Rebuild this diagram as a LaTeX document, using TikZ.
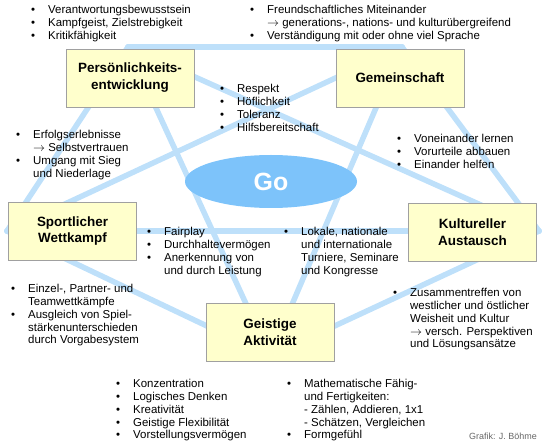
\documentclass[tikz,border=0pt]{standalone}
\usepackage{fontspec}
\setmainfont{Liberation Sans}
\usetikzlibrary{shapes.geometric}

\definecolor{barblue}{RGB}{190,224,250}
\definecolor{goblue}{RGB}{125,195,250}
\definecolor{boxfill}{RGB}{255,255,204}
\definecolor{boxline}{RGB}{160,160,160}

\newcommand\pkt{\strut\makebox[17bp][l]{•}}
\newcommand\ein{\hspace*{17bp}}
\newcommand\pfeil{\ensuremath{\rightarrow}}

\tikzset{
    bluebar/.style={line width=5.5bp,barblue,line cap=round},
    topic/.style={draw=boxline,fill=boxfill,minimum width=128bp,minimum height=58bp,
        align=center,inner sep=2bp,font=\fontsize{13.5}{17}\selectfont\bfseries},
    notes/.style={anchor=north west,inner sep=0pt,align=left,
        font=\fontsize{11.5}{13}\selectfont}
}

\begin{document}
\begin{tikzpicture}[x=1bp,y=-1bp]
        \useasboundingbox (0,0) rectangle (544,448);

        % corners of the pentagon
        \coordinate (tl) at (128,47);
        \coordinate (tr) at (402,47);
        \coordinate (r) at (539,231);
        \coordinate (b) at (270,356);
        \coordinate (l) at (7,231);

        \foreach \a/\b in {tl/tr,tr/r,r/b,b/l,l/tl,tl/r,tl/b,tr/l,tr/b,l/r}{
                \draw[bluebar] (\a) -- (\b);
            }

        \node[ellipse,fill=goblue,minimum width=172bp,minimum height=53bp,
            text=white,font=\fontsize{25}{30}\selectfont\bfseries] (go) at (271,181.5) {Go};

        \node[topic] (pers) at (130,78) {Persönlichkeits-\\entwicklung};
        \node[topic] (gem) at (400,78) {Gemeinschaft};
        \node[topic] (sport) at (72.5,231) {Sportlicher\\Wettkampf};
        \node[topic] (kult) at (472.5,232) {Kultureller\\Austausch};
        \node[topic] (geist) at (270,332) {Geistige\\Aktivität};

        \node[notes] (n1) at (31,3.9) {\pkt Verantwortungsbewusstsein\\
            \pkt Kampfgeist, Zielstrebigkeit\\ \pkt Kritikfähigkeit};
        \node[notes] (n2) at (250,3.9) {\pkt Freundschaftliches Miteinander\\
            \ein \pfeil{} generations-, nations- und kulturübergreifend\\
            \pkt Verständigung mit oder ohne viel Sprache};
        \node[notes] (n3) at (220,82.9) {\pkt Respekt\\ \pkt Höflichkeit\\
            \pkt Toleranz\\ \pkt Hilfsbereitschaft};
        \node[notes] (n4) at (16,128.9) {\pkt Erfolgserlebnisse\\ \ein \pfeil{} Selbstvertrauen\\
            \pkt Umgang mit Sieg\\ \ein und Niederlage};
        \node[notes] (n5) at (397,132.9) {\pkt Voneinander lernen\\
            \pkt Vorurteile abbauen\\ \pkt Einander helfen};
        \node[notes] (n6) at (147,225.9) {\pkt Fairplay\\ \pkt Durchhaltevermögen\\
            \pkt Anerkennung von\\ \ein und durch Leistung};
        \node[notes] (n7) at (284,225.9) {\pkt Lokale, nationale\\ \ein und internationale\\
            \ein Turniere, Seminare\\ \ein und Kongresse};
        \node[notes] (n8) at (11,282.9) {\pkt Einzel-, Partner- und\\ \ein Teamwettkämpfe\\
            \pkt Ausgleich von Spiel-\\ \ein stärkenunterschieden\\ \ein durch Vorgabesystem};
        \node[notes] (n9) at (393,286.9) {\pkt Zusammentreffen von\\
            \ein westlicher und östlicher\\ \ein Weisheit und Kultur\\
            \ein \pfeil{} versch. Perspektiven\\ \ein und Lösungsansätze};
        \node[notes] (n10) at (116,377.9) {\pkt Konzentration\\ \pkt Logisches Denken\\
            \pkt Kreativität\\ \pkt Geistige Flexibilität\\ \pkt Vorstellungsvermögen};
        \node[notes] (n11) at (287,377.9) {\pkt Mathematische Fähig-\\
            \ein und Fertigkeiten:\\ \ein - Zählen, Addieren, 1x1\\
            \ein - Schätzen, Vergleichen\\ \pkt Formgefühl};

        \node[anchor=west,inner sep=0pt,text=black!60,font=\fontsize{9}{11}\selectfont]
            (credit) at (469,436) {Grafik: J. Böhme};
    \end{tikzpicture}
\end{document}
